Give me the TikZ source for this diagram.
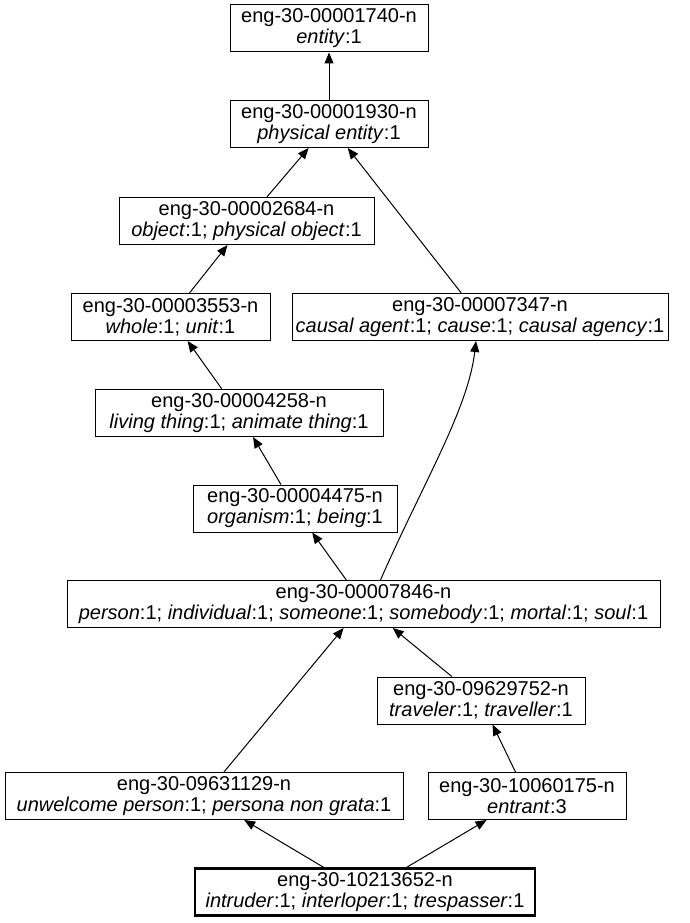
\documentclass[tikz,border=0pt]{standalone}
\usepackage{fontspec}
\setmainfont{Liberation Sans}
\usepackage{tikz}
\usetikzlibrary{arrows.meta}

\begin{document}
\begin{tikzpicture}[
    x=1pt, y=-1pt,
    synset/.style={draw, line width=1pt, inner sep=0pt, minimum height=47pt, align=center, font=\fontsize{20}{21}\selectfont},
    target/.style={synset, line width=2.2pt},
    arrow/.style={-{Triangle[length=11pt, width=9pt]}, line width=1pt},
]
\useasboundingbox (0,0) rectangle (690,923);

\node[synset, minimum width=198pt] (entity) at (329,28.5) {eng-30-00001740-n\\\textit{entity}:1};
\node[synset, minimum width=198pt] (physical) at (329,124) {eng-30-00001930-n\\\textit{physical entity}:1};
\node[synset, minimum width=255pt] (object) at (246.5,221) {eng-30-00002684-n\\\textit{object}:1; \textit{physical object}:1};
\node[synset, minimum width=199pt] (whole) at (170.5,317) {eng-30-00003553-n\\\textit{whole}:1; \textit{unit}:1};
\node[synset, minimum width=376pt] (causal) at (480,317) {eng-30-00007347-n\\\textit{causal agent}:1; \textit{cause}:1; \textit{causal agency}:1};
\node[synset, minimum width=288pt] (living) at (239,413) {eng-30-00004258-n\\\textit{living thing}:1; \textit{animate thing}:1};
\node[synset, minimum width=204pt] (organism) at (295,508.5) {eng-30-00004475-n\\\textit{organism}:1; \textit{being}:1};
\node[synset, minimum width=593pt] (person) at (363.5,604) {eng-30-00007846-n\\\textit{person}:1; \textit{individual}:1; \textit{someone}:1; \textit{somebody}:1; \textit{mortal}:1; \textit{soul}:1};
\node[synset, minimum width=208pt] (traveler) at (481,700.5) {eng-30-09629752-n\\\textit{traveler}:1; \textit{traveller}:1};
\node[synset, minimum width=398pt] (unwelcome) at (204,796) {eng-30-09631129-n\\\textit{unwelcome person}:1; \textit{persona non grata}:1};
\node[synset, minimum width=198pt] (entrant) at (527,796) {eng-30-10060175-n\\\textit{entrant}:3};
\node[target, minimum width=340pt] (intruder) at (365,892) {eng-30-10213652-n\\\textit{intruder}:1; \textit{interloper}:1; \textit{trespasser}:1};

\draw[arrow] (physical) -- (entity);
\draw[arrow] (object) -- (physical);
\draw[arrow] (causal) -- (physical);
\draw[arrow] (whole) -- (object);
\draw[arrow] (living) -- (whole);
\draw[arrow] (organism) -- (living);
\draw[arrow] (person) -- (organism);
\draw[arrow] ([xshift=17pt]person.north) .. controls (422,485) and (468,410) .. ([xshift=-4pt]causal.south);
\draw[arrow] (unwelcome) -- (person);
\draw[arrow] (traveler) -- (person);
\draw[arrow] (entrant) -- (traveler);
\draw[arrow] (intruder) -- (unwelcome);
\draw[arrow] (intruder) -- (entrant);
\end{tikzpicture}
\end{document}
